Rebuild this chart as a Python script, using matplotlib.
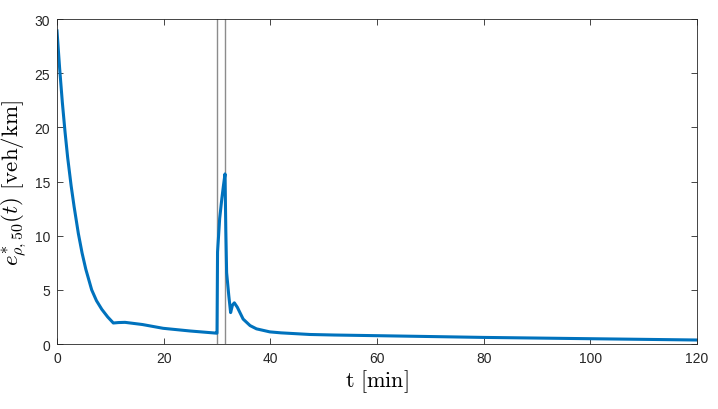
import matplotlib
matplotlib.use("Agg")
import matplotlib.pyplot as plt

plt.rcParams['mathtext.fontset'] = 'cm'
plt.rcParams['font.family'] = ['Liberation Sans', 'DejaVu Sans']

# data
t = [0.0, 0.5, 1.0, 1.5, 2.0, 2.65, 3.2, 4.0, 4.7, 5.4, 6.5, 7.4, 8.4, 9.5, 10.56,
     11.5, 12.75, 16.0, 19.9, 25.0, 29.95,
     30.0, 30.1, 30.5, 30.9, 31.2, 31.5, 31.65, 31.8, 32.2, 32.55, 32.9, 33.25, 33.8,
     34.9, 36.2, 37.4, 39.9, 42.0, 44.9, 47.4, 52.0, 59.9, 70.0, 79.9, 90.0, 99.9, 110.0, 120.0]
e = [28.9, 25.4, 22.3, 19.6, 17.2, 14.6, 12.7, 10.2, 8.4, 6.9, 5.0, 4.0, 3.2, 2.5, 1.94,
     1.98, 2.0, 1.8, 1.45, 1.2, 1.0,
     1.0, 8.5, 11.6, 13.4, 14.6, 15.7, 10.5, 6.6, 4.5, 2.9, 3.6, 3.8, 3.4,
     2.3, 1.7, 1.4, 1.12, 1.03, 0.95, 0.88, 0.83, 0.77, 0.69, 0.61, 0.55, 0.49, 0.43, 0.37]
vlines = [30.0, 31.5]
xticks = [0, 20, 40, 60, 80, 100, 120]
yticks = [0, 5, 10, 15, 20, 25, 30]

fig = plt.figure(figsize=(7.18, 4.10), dpi=100)
ax = fig.add_axes([0.0794, 0.1585, 0.8914, 0.7927])

for v in vlines:
    ax.axvline(v, color='#8c8c8c', lw=1.0, zorder=1)
ax.plot(t, e, color='#0072BD', lw=2.2, zorder=2, solid_joinstyle='round')

ax.set_xlim(0, 120)
ax.set_ylim(0, 30)
ax.set_xticks(xticks)
ax.set_yticks(yticks)
ax.tick_params(direction='in', top=True, right=True, length=4, width=0.6,
               colors='#262626', labelsize=10, labelcolor='#262626', pad=5)
for s in ax.spines.values():
    s.set_color('#262626')
    s.set_linewidth(0.6)

ax.set_xlabel(r'$\mathrm{t\ [min]}$', fontsize=16, labelpad=2)
ax.set_ylabel(r'$e^{*}_{\rho,50}(t)\ \mathrm{[veh/km]}$', fontsize=16.5)
ax.yaxis.set_label_coords(-0.043, 0.5)

fig.savefig('out.png', dpi=100)
